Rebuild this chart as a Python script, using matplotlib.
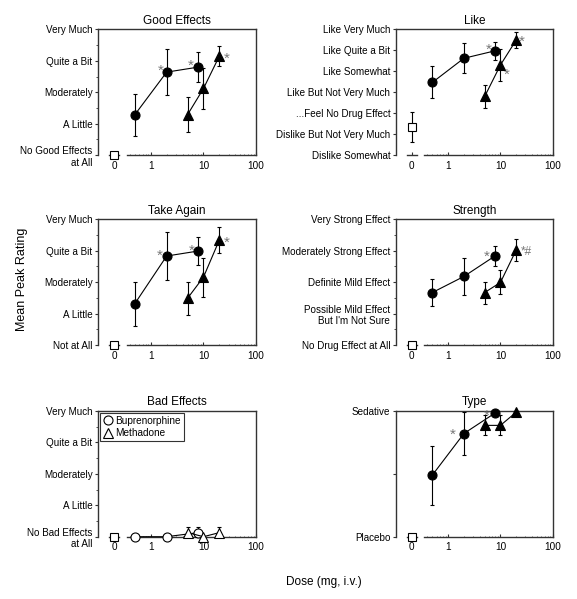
import matplotlib
matplotlib.use('Agg')
import matplotlib.pyplot as plt
from matplotlib.lines import Line2D
from matplotlib.ticker import FixedLocator, NullFormatter

plt.rcParams['font.family'] = ['Liberation Sans', 'DejaVu Sans']

# doses (mg, i.v.); placebo is drawn at the "0" slot left of the axis break
bup_dose = [0.5, 2, 8]
met_dose = [5, 10, 20]
placebo_x = 0.2

# Good Effects
good_labels = ['No Good Effects\nat All', 'A Little', 'Moderately', 'Quite a Bit', 'Very Much']
good_bup = [1.29, 2.64, 2.80]
good_bup_err = [0.67, 0.73, 0.49]
good_met = [1.29, 2.12, 3.15]
good_met_err = [0.57, 0.65, 0.32]
good_pla, good_pla_err = 0.0, 0.0

# Like
like_labels = ['Dislike Somewhat', 'Dislike But Not Very Much', '...Feel No Drug Effect',
               'Like But Not Very Much', 'Like Somewhat', 'Like Quite a Bit', 'Like Very Much']
like_bup = [3.47, 4.62, 4.98]
like_bup_err = [0.76, 0.71, 0.42]
like_met = [2.80, 4.30, 5.49]
like_met_err = [0.53, 0.75, 0.38]
like_pla, like_pla_err = 1.33, 0.72

# Take Again
take_labels = ['Not at All', 'A Little', 'Moderately', 'Quite a Bit', 'Very Much']
take_bup = [1.32, 2.83, 2.99]
take_bup_err = [0.70, 0.75, 0.46]
take_met = [1.49, 2.16, 3.34]
take_met_err = [0.52, 0.62, 0.42]
take_pla, take_pla_err = 0.0, 0.0

# Strength
str_labels = ['No Drug Effect at All', 'Possible Mild Effect\nBut I\'m Not Sure',
              'Definite Mild Effect', 'Moderately Strong Effect', 'Very Strong Effect']
str_bup = [1.67, 2.18, 2.84]
str_bup_err = [0.42, 0.60, 0.32]
str_met = [1.67, 1.99, 3.02]
str_met_err = [0.35, 0.38, 0.35]
str_pla, str_pla_err = 0.0, 0.0

# Bad Effects
bad_labels = ['No Bad Effects\nat All', 'A Little', 'Moderately', 'Quite a Bit', 'Very Much']
bad_bup = [0.0, 0.0, 0.13]
bad_bup_err = [0.0, 0.0, 0.17]
bad_met = [0.13, 0.0, 0.13]
bad_met_err = [0.17, 0.0, 0.17]
bad_pla, bad_pla_err = 0.0, 0.0

# Type
type_labels = ['Placebo', '', 'Sedative']
type_bup = [0.98, 1.64, 1.97]
type_bup_err = [0.47, 0.34, 0.0]
type_met = [1.77, 1.77, 1.98]
type_met_err = [0.16, 0.16, 0.0]
type_pla, type_pla_err = 0.0, 0.0

# significance marks: (drug, index, text, dx, dy) offsets in points from the marker
good_stars = [('bup', 1, '*', -4.1, 3.8), ('bup', 2, '*', -5.3, 3.8), ('met', 2, '*', 5.5, 1.2)]
like_stars = [('bup', 2, '*', -4.6, 4.0), ('met', 1, '*', 4.8, -3.6), ('met', 2, '*', 4.3, 1.7)]
take_stars = [('bup', 1, '*', -4.8, 3.6), ('bup', 2, '*', -4.8, 3.1), ('met', 2, '*', 5.5, 1.2)]
str_stars = [('bup', 2, '*', -6.0, 2.4), ('met', 2, '*#', 3.0, 2.4)]
type_stars = [('bup', 1, '*', -7.7, 2.4), ('bup', 2, '*', -6.0, 0.7)]

frame = '#333333'
star_fs = 11


def panel(ax, title, labels, bup, bup_e, met, met_e, pla, pla_e, stars,
          filled=True, minor_y=True):
    ymax = len(labels) - 1
    ax.set_xscale('log')
    ax.set_xlim(0.1, 100)
    ax.set_ylim(0, ymax)

    fc = 'black' if filled else 'white'
    lo_b = [0 if not filled else e for e in bup_e]
    lo_m = [0 if not filled else e for e in met_e]
    ax.errorbar(bup_dose, bup, yerr=[lo_b, bup_e], color='black', lw=0.8,
                elinewidth=0.8, capsize=1.2, marker='o', ms=6.5, mfc=fc,
                mec='black', mew=0.8, clip_on=False, zorder=3)
    ax.errorbar(met_dose, met, yerr=[lo_m, met_e], color='black', lw=0.8,
                elinewidth=0.8, capsize=1.2, marker='^', ms=6.5, mfc=fc,
                mec='black', mew=0.8, clip_on=False, zorder=3)
    ax.errorbar([placebo_x], [pla], yerr=[[pla_e], [pla_e]], color='black',
                elinewidth=0.8, capsize=1.2, marker='s', ms=6, mfc='white',
                mec='black', mew=0.8, clip_on=False, zorder=4)

    for drug, i, txt, dx, dy in stars:
        x = bup_dose[i] if drug == 'bup' else met_dose[i]
        y = bup[i] if drug == 'bup' else met[i]
        ha = 'left' if len(txt) > 1 else 'center'
        ax.annotate(txt, (x, y), xytext=(dx, dy - 0.55 * star_fs),
                    textcoords='offset points', ha=ha, va='baseline',
                    fontsize=star_fs if len(txt) == 1 else 8.5, color='#777777')

    ax.set_title(title, fontsize=8.5, pad=4)
    for s in ax.spines.values():
        s.set_color(frame)
        s.set_linewidth(1.0)
    ax.spines['bottom'].set_bounds(0.35, 100)
    ax.plot([0.16, 0.25], [0, 0], color=frame, lw=1.0, clip_on=False,
            transform=ax.get_xaxis_transform(), zorder=2)

    ax.set_xticks([placebo_x, 1, 10, 100])
    ax.set_xticklabels(['0', '1', '10', '100'])
    ax.xaxis.set_minor_locator(FixedLocator(
        [0.4, 0.5, 0.6, 0.7, 0.8, 0.9] + list(range(2, 10)) + list(range(20, 100, 10))))
    ax.xaxis.set_minor_formatter(NullFormatter())
    ax.set_yticks(range(ymax + 1))
    ax.set_yticklabels(labels)
    if minor_y:
        ax.yaxis.set_minor_locator(FixedLocator([k + 0.5 for k in range(ymax)]))
    ax.tick_params(axis='y', which='major', labelsize=7.1, length=2.5,
                   width=0.8, color=frame, pad=1.5, direction='out')
    ax.tick_params(axis='y', which='minor', length=1.5, width=0.6, color=frame,
                   direction='out')
    ax.tick_params(axis='x', which='major', labelsize=7.2, length=2.0,
                   width=0.8, color=frame, pad=4, direction='in')
    ax.tick_params(axis='x', which='minor', length=1.0, width=0.5, color=frame,
                   direction='in')


fig = plt.figure(figsize=(5.77, 5.99), dpi=100)
w_l, w_r, h = 0.274, 0.272, 0.210
ax1 = fig.add_axes([0.170, 0.741, w_l, h])
ax2 = fig.add_axes([0.686, 0.741, w_r, h])
ax3 = fig.add_axes([0.170, 0.424, w_l, h])
ax4 = fig.add_axes([0.686, 0.424, w_r, h])
ax5 = fig.add_axes([0.170, 0.104, w_l, h])
ax6 = fig.add_axes([0.686, 0.104, w_r, h])

panel(ax1, 'Good Effects', good_labels, good_bup, good_bup_err, good_met,
      good_met_err, good_pla, good_pla_err, good_stars)
panel(ax2, 'Like', like_labels, like_bup, like_bup_err, like_met,
      like_met_err, like_pla, like_pla_err, like_stars, minor_y=False)
panel(ax3, 'Take Again', take_labels, take_bup, take_bup_err, take_met,
      take_met_err, take_pla, take_pla_err, take_stars)
panel(ax4, 'Strength', str_labels, str_bup, str_bup_err, str_met,
      str_met_err, str_pla, str_pla_err, str_stars)
panel(ax5, 'Bad Effects', bad_labels, bad_bup, bad_bup_err, bad_met,
      bad_met_err, bad_pla, bad_pla_err, [], filled=False)
panel(ax6, 'Type', type_labels, type_bup, type_bup_err, type_met,
      type_met_err, type_pla, type_pla_err, type_stars, minor_y=False)

handles = [Line2D([], [], ls='none', marker='o', ms=6.5, mfc='white', mec='black', mew=0.8),
           Line2D([], [], ls='none', marker='^', ms=6.5, mfc='white', mec='black', mew=0.8)]
leg = ax5.legend(handles, ['Buprenorphine', 'Methadone'], loc='upper left',
                 fontsize=7.2, frameon=True, fancybox=False, handletextpad=0.2,
                 borderpad=0.3, labelspacing=0.25, borderaxespad=0.2,
                 handlelength=1.0)
leg.get_frame().set_edgecolor('black')
leg.get_frame().set_linewidth(0.8)

fig.text(0.038, 0.534, 'Mean Peak Rating', rotation=90, ha='center',
         va='center', fontsize=9)
fig.text(0.562, 0.028, 'Dose (mg, i.v.)', ha='center', va='center', fontsize=8.5)

fig.savefig('out.png', dpi=100)
